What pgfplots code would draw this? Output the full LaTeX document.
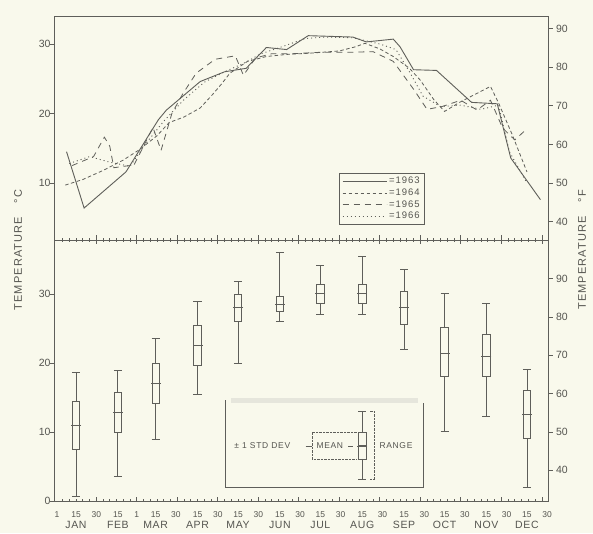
\documentclass[border=0pt]{standalone}
\usepackage{fontspec}
\setmainfont{Liberation Sans}
\usepackage{pgfplots}
\pgfplotsset{compat=1.18}
\usepgfplotslibrary{statistics}
\definecolor{bg}{RGB}{249,249,236}
\definecolor{ink}{RGB}{95,95,90}
\definecolor{txt}{RGB}{85,85,80}
\definecolor{smear}{RGB}{230,230,220}

\pgfplotsset{
  panel/.style={
    scale only axis, width=494pt, anchor=south west,
    xmin=-1.3, xmax=364.6,
    axis line style={draw=ink, line width=0.8pt},
    every tick/.style={draw=ink, line width=0.6pt},
    tick label style={text=txt, font=\fontsize{10.5}{12}\selectfont},
    /pgf/number format/assume math mode=true,
    xtick={30,60,...,360},
    minor xtick={5,10,...,360},
    major tick length=4.5pt, minor tick length=2pt,
    tick align=inside,
    ytick pos=left,
    ytick style={xshift=-4.5pt},
  },
  rpanel/.style={
    scale only axis, width=494pt, anchor=south west,
    xmin=-1.3, xmax=364.6,
    axis x line=none, axis y line*=right,
    y axis line style={draw=none},
    ytick={40,50,...,90},
    tick align=outside, major tick length=4.5pt,
    every tick/.style={draw=ink, line width=0.6pt},
    tick label style={text=txt, font=\fontsize{10.5}{12}\selectfont},
    /pgf/number format/assume math mode=true,
  },
  bx/.style={draw=ink, line width=0.8pt, solid, mark=none},
}
\newcommand{\mo}[1]{15\\{\fontsize{10.5}{12}\selectfont\addfontfeature{LetterSpace=6} #1}}
\newcommand{\keyfont}{\fontsize{8.5}{10}\selectfont\addfontfeature{LetterSpace=8}}

\begin{document}
\begin{tikzpicture}[x=1pt,y=1pt]
\useasboundingbox (0,0) rectangle (593,533);
\fill[bg] (0,0) rectangle (593,533);

% ---- top panel: daily mean temperature by year
\begin{axis}[panel, at={(54pt,293pt)}, height=224pt,
  ymin=1.8, ymax=34.03, ytick={10,20,30},
  xtick pos=left, xticklabels={},
  legend cell align=left,
  legend image code/.code={\draw[#1] (0pt,0pt) -- (44pt,0pt);},
  legend style={at={(0.577,0.299)}, anchor=north west, draw=ink,
    line width=0.4pt, fill=none, text=txt,
    font=\fontsize{9.5}{10}\selectfont\addfontfeature{LetterSpace=10},
    inner xsep=3pt, inner ysep=2pt, row sep=-0.5pt},
]
\addplot[ink, line width=0.9pt] coordinates {
  (8,14.5) (21,6.4) (52,11.6) (76,19.1) (82,20.5) (107,24.6) (125,26.0)
  (141,26.5) (156,29.5) (171,29.2) (187,31.2) (220,31.0) (230,30.3)
  (250,30.7) (255,29.6) (265,26.3) (282,26.2) (308,21.6) (327,21.4)
  (337,13.6) (359,7.6)
};
\addlegendentry{=1963}
\addplot[ink, line width=0.8pt, dash pattern=on 3.5pt off 2.5pt] coordinates {
  (7,9.7) (20,10.5) (35,11.8) (50,13.3) (62,14.8) (75,16.8) (84,18.7)
  (95,19.5) (107,20.8) (116,22.7) (123,24.3) (129,25.8) (142,27.5)
  (156,28.2) (171,28.5) (190,28.7) (210,29.0) (222,29.6) (229,30.1)
  (240,29.3) (250,28.2) (262,26.5) (270,24.8) (280,22.0) (288,20.3)
  (299,21.6) (322,23.9) (328,21.5) (338,17.0) (349,11.6)
};
\addlegendentry{=1964}
\addplot[ink, line width=0.8pt, dash pattern=on 6pt off 5pt] coordinates {
  (12,12.5) (28,13.8) (36,16.6) (40,15.3) (43,12.2) (58,12.6) (72,18.0)
  (78,14.7) (86,20.0) (94,22.8) (104,25.8) (118,27.8) (133,28.3)
  (139,25.5) (148,28.0) (160,28.6) (175,28.6) (195,28.8) (215,28.8)
  (235,28.9) (250,27.5) (265,23.5) (275,20.6) (286,21.0) (300,21.9)
  (312,20.5) (322,21.9) (331,17.9) (340,16.2) (349,17.8)
};
\addlegendentry{=1965}
\addplot[ink, line width=0.9pt, dash pattern=on 1pt off 3pt] coordinates {
  (10,12.8) (25,13.8) (40,13.0) (55,12.4) (66,15.5) (80,18.9) (95,22.0)
  (110,24.5) (125,26.0) (140,27.3) (152,28.6) (166,29.5) (185,30.8)
  (200,31.0) (220,30.9) (240,30.0) (252,29.2) (262,26.0) (272,22.5)
  (285,21.0) (300,21.2) (315,20.6) (328,21.2) (336,14.5) (349,10.0)
};
\addlegendentry{=1966}
\end{axis}
\begin{axis}[rpanel, at={(54pt,293pt)}, height=224pt, ymin=35.24, ymax=93.25]
\end{axis}

% ---- bottom panel: monthly statistics
\begin{axis}[panel, at={(54pt,32pt)}, height=261pt,
  ymin=0, ymax=37.83, ytick={0,10,20,30},
  xtick pos=both, xticklabels={},
  extra x ticks={1,15,30,46,60,74,89,105,120,135,150,166,181,196,211,227,242,258,273,288,303,319,334,349,364},
  extra x tick labels={1,\mo{JAN},30,\mo{FEB},1,\mo{MAR},30,\mo{APR},30,\mo{MAY},30,\mo{JUN},30,\mo{JUL},30,\mo{AUG},30,\mo{SEP},30,\mo{OCT},30,\mo{NOV},30,\mo{DEC},30},
  extra x tick style={major tick length=0pt,
    tick label style={align=center, font=\fontsize{8.5}{11.5}\selectfont, yshift=-7pt}},
  boxplot/draw direction=y,
  boxplot/box extend=5.5, boxplot/whisker extend=6,
]
\addplot[bx, boxplot prepared={draw position=15, lower whisker=0.7, lower quartile=7.5, median=11.0, upper quartile=14.5, upper whisker=18.7}] coordinates {};
\addplot[bx, boxplot prepared={draw position=46, lower whisker=3.5, lower quartile=10.0, median=12.9, upper quartile=15.8, upper whisker=19.0}] coordinates {};
\addplot[bx, boxplot prepared={draw position=74, lower whisker=9.0, lower quartile=14.1, median=17.0, upper quartile=19.9, upper whisker=23.5}] coordinates {};
\addplot[bx, boxplot prepared={draw position=105, lower whisker=15.4, lower quartile=19.6, median=22.6, upper quartile=25.4, upper whisker=29.0}] coordinates {};
\addplot[bx, boxplot prepared={draw position=135, lower whisker=20.0, lower quartile=26.0, median=28.1, upper quartile=30.0, upper whisker=31.9}] coordinates {};
\addplot[bx, boxplot prepared={draw position=166, lower whisker=26.0, lower quartile=27.5, median=28.5, upper quartile=29.6, upper whisker=36.1}] coordinates {};
\addplot[bx, boxplot prepared={draw position=196, lower whisker=27.0, lower quartile=28.7, median=30.1, upper quartile=31.4, upper whisker=34.1}] coordinates {};
\addplot[bx, boxplot prepared={draw position=227, lower whisker=27.0, lower quartile=28.7, median=30.1, upper quartile=31.4, upper whisker=35.5}] coordinates {};
\addplot[bx, boxplot prepared={draw position=258, lower whisker=22.0, lower quartile=25.6, median=28.1, upper quartile=30.4, upper whisker=33.6}] coordinates {};
\addplot[bx, boxplot prepared={draw position=288, lower whisker=10.1, lower quartile=18.1, median=21.4, upper quartile=25.1, upper whisker=30.1}] coordinates {};
\addplot[bx, boxplot prepared={draw position=319, lower whisker=12.2, lower quartile=18.0, median=21.0, upper quartile=24.1, upper whisker=28.7}] coordinates {};
\addplot[bx, boxplot prepared={draw position=349, lower whisker=2.0, lower quartile=9.1, median=12.6, upper quartile=16.0, upper whisker=19.1}] coordinates {};
% key sample
\addplot[bx, boxplot prepared={draw position=227, lower whisker=3.2, lower quartile=6.1, median=8.0, upper quartile=10.0, upper whisker=13.0}] coordinates {};
% mean ticks
\addplot[only marks, mark=-, mark size=5pt, draw=ink, line width=0.6pt] coordinates {
  (15,11.0) (46,12.9) (74,17.0) (105,22.6) (135,28.1) (166,28.5)
  (196,30.1) (227,30.1) (258,28.1) (288,21.4) (319,21.0) (349,12.6)
  (227,8.0)
};
% key frame and labels
\draw[smear, line width=5pt] (axis cs:130,14.5) -- (axis cs:268,14.5);
\draw[ink, line width=0.5pt] (axis cs:125.4,14.6) -- (axis cs:125.4,2.0)
  -- (axis cs:272,2.0) -- (axis cs:272,14.2);
\draw[ink, line width=0.5pt, dash pattern=on 2.5pt off 1pt]
  (axis cs:223,10.0) -- (axis cs:189.8,10.0) -- (axis cs:189.8,6.1) -- (axis cs:223,6.1);
\draw[ink, line width=0.5pt] (axis cs:185,8.0) -- (axis cs:189.8,8.0);
\draw[ink, line width=0.5pt] (axis cs:216.5,8.0) -- (axis cs:220,8.0);
\draw[ink, line width=0.5pt, dash pattern=on 2.5pt off 1pt]
  (axis cs:232.8,13.0) -- (axis cs:235.7,13.0) -- (axis cs:235.7,3.2) -- (axis cs:232.8,3.2);
\node[text=txt, font=\keyfont] at (axis cs:153,8.0) {± 1 STD DEV};
\node[text=txt, font=\keyfont] at (axis cs:203,8.0) {MEAN};
\node[text=txt, font=\keyfont] at (axis cs:252,8.0) {RANGE};
\end{axis}
\begin{axis}[rpanel, at={(54pt,32pt)}, height=261pt, ymin=32, ymax=100.09]
\end{axis}

\node[rotate=90, text=txt, font=\fontsize{11}{12}\selectfont\addfontfeature{LetterSpace=10}] at (18,283) {TEMPERATURE\hspace{14pt}°C};
\node[rotate=90, text=txt, font=\fontsize{11}{12}\selectfont\addfontfeature{LetterSpace=10}] at (582,283) {TEMPERATURE\hspace{14pt}°F};
\end{tikzpicture}
\end{document}
